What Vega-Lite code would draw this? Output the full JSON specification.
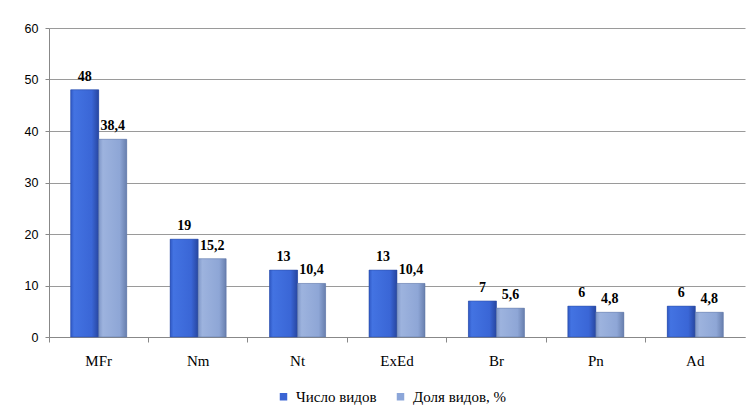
{
  "$schema": "https://vega.github.io/schema/vega-lite/v6.json",
  "width": 696,
  "height": 309,
  "autosize": {"type": "none"},
  "padding": {"left": 49, "top": 28, "right": 9, "bottom": 76},
  "background": "white",
  "data": {
    "values": [
      {"cat": "MFr", "series": "Число видов", "value": 48, "label": "48"},
      {"cat": "MFr", "series": "Доля видов, %", "value": 38.4, "label": "38,4"},
      {"cat": "Nm", "series": "Число видов", "value": 19, "label": "19"},
      {"cat": "Nm", "series": "Доля видов, %", "value": 15.2, "label": "15,2"},
      {"cat": "Nt", "series": "Число видов", "value": 13, "label": "13"},
      {"cat": "Nt", "series": "Доля видов, %", "value": 10.4, "label": "10,4"},
      {"cat": "ExEd", "series": "Число видов", "value": 13, "label": "13"},
      {"cat": "ExEd", "series": "Доля видов, %", "value": 10.4, "label": "10,4"},
      {"cat": "Br", "series": "Число видов", "value": 7, "label": "7"},
      {"cat": "Br", "series": "Доля видов, %", "value": 5.6, "label": "5,6"},
      {"cat": "Pn", "series": "Число видов", "value": 6, "label": "6"},
      {"cat": "Pn", "series": "Доля видов, %", "value": 4.8, "label": "4,8"},
      {"cat": "Ad", "series": "Число видов", "value": 6, "label": "6"},
      {"cat": "Ad", "series": "Доля видов, %", "value": 4.8, "label": "4,8"}
    ]
  },
  "encoding": {
    "x": {
      "field": "cat",
      "type": "nominal",
      "sort": null,
      "scale": {"paddingInner": 0, "paddingOuter": 0},
      "axis": {
        "title": null,
        "labelAngle": 0,
        "bandPosition": 0,
        "labelFont": "Liberation Serif",
        "labelFontSize": 15,
        "labelColor": "#000000",
        "labelPadding": 11,
        "tickSize": 5,
        "tickColor": "#888888",
        "domainColor": "#888888",
        "grid": false
      }
    },
    "xOffset": {
      "field": "series",
      "type": "nominal",
      "sort": ["Число видов", "Доля видов, %"],
      "scale": {"paddingInner": 0, "paddingOuter": 0.775}
    },
    "y": {
      "field": "value",
      "type": "quantitative",
      "scale": {"domain": [0, 60], "nice": false},
      "axis": {
        "title": null,
        "values": [0, 10, 20, 30, 40, 50, 60],
        "labelFont": "Liberation Sans",
        "labelFontSize": 12.5,
        "labelColor": "#000000",
        "labelPadding": 7,
        "tickSize": 4,
        "tickColor": "#888888",
        "domainColor": "#888888",
        "gridColor": "#9a9a9a",
        "gridWidth": 1
      }
    }
  },
  "layer": [
    {
      "mark": {"type": "bar"},
      "encoding": {
        "color": {
          "field": "series",
          "type": "nominal",
          "sort": ["Число видов", "Доля видов, %"],
          "scale": {"domain": ["Число видов", "Доля видов, %"], "range": ["#3a64d4", "#8ca6d9"]},
          "legend": {
            "title": null,
            "orient": "none",
            "legendX": 227,
            "legendY": 361,
            "direction": "horizontal",
            "symbolType": "square",
            "symbolSize": 56,
            "symbolStrokeWidth": 0,
            "labelFont": "Liberation Serif",
            "labelFontSize": 15,
            "labelColor": "#000000",
            "labelOffset": 5,
            "columnPadding": 16
          }
        }
      }
    },
    {
      "transform": [{"filter": "datum.series === 'Число видов'"}],
      "mark": {
        "type": "bar",
        "stroke": "#2a4aa0",
        "strokeWidth": 0.5,
        "color": {
          "gradient": "linear",
          "x1": 0, "y1": 0, "x2": 1, "y2": 0,
          "stops": [
            {"offset": 0, "color": "#2f58c4"},
            {"offset": 0.12, "color": "#4373e2"},
            {"offset": 0.75, "color": "#3a66d6"},
            {"offset": 1, "color": "#2746a0"}
          ]
        }
      },
      "encoding": {}
    },
    {
      "transform": [{"filter": "datum.series === 'Доля видов, %'"}],
      "mark": {
        "type": "bar",
        "stroke": "#5f75a3",
        "strokeWidth": 0.5,
        "color": {
          "gradient": "linear",
          "x1": 0, "y1": 0, "x2": 1, "y2": 0,
          "stops": [
            {"offset": 0, "color": "#7f97c8"},
            {"offset": 0.15, "color": "#9db3de"},
            {"offset": 0.75, "color": "#8ea6d6"},
            {"offset": 1, "color": "#687fae"}
          ]
        }
      },
      "encoding": {}
    },
    {
      "mark": {"type": "text", "baseline": "bottom", "dy": -6, "font": "Liberation Serif", "fontSize": 14, "fontWeight": "bold", "color": "#000000"},
      "encoding": {
        "text": {"field": "label", "type": "nominal"}
      }
    }
  ],
  "config": {
    "view": {"stroke": null}
  }
}
